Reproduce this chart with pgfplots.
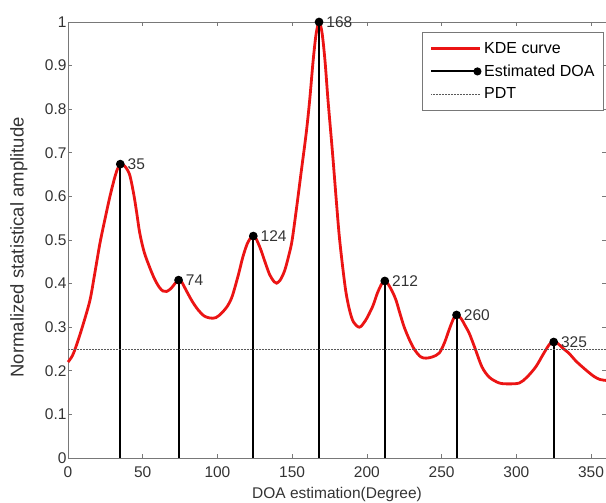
\documentclass[border=0pt]{standalone}
\usepackage{pgfplots}
\pgfplotsset{compat=1.18}
\usepackage{fontspec}
\setmainfont{Liberation Sans}
\definecolor{kdered}{RGB}{235,20,20}
\definecolor{axgray}{RGB}{120,120,120}
\begin{document}
\begin{tikzpicture}
\begin{axis}[
  scale only axis,
  width=538pt, height=436pt,
  xmin=0, xmax=360, ymin=0, ymax=1,
  xtick={0,50,...,350},
  ytick={0,0.1,...,1},
  yticklabels={0,0.1,0.2,0.3,0.4,0.5,0.6,0.7,0.8,0.9,1},
  tick align=inside,
  major tick length=4pt,
  axis line style={axgray, line width=0.9pt},
  tick style={axgray, line width=0.6pt},
  /pgf/number format/assume math mode=true,
  tick label style={font=\fontsize{15.5}{17}\selectfont, text=black!80},
  xlabel={DOA estimation(Degree)},
  ylabel={Normalized statistical amplitude},
  xlabel style={font=\fontsize{15.5}{17}\selectfont, text=black!80,
    at={(axis description cs:0.5,0)}, anchor=north, yshift=-26pt},
  ylabel style={font=\fontsize{18.5}{20}\selectfont, text=black!80,
    at={(axis description cs:0,0.483)}, anchor=south, rotate=0, yshift=37pt},
  xticklabel style={yshift=-5pt},
  yticklabel style={xshift=2pt},
  legend style={at={(rel axis cs:0.996,0.977)}, anchor=north east,
    font=\fontsize{16}{18}\selectfont, draw=axgray, line width=0.7pt,
    inner xsep=7pt, inner ysep=8pt, row sep=6pt},
  legend cell align=left,
  clip=false,
]
% KDE curve
\addplot[kdered, line width=2.8pt, smooth, tension=0.5,
  legend image code/.code={\draw[line width=3.6pt] (0pt,0pt) -- (49pt,0pt);}
] coordinates {
(0,0.220) (3,0.235) (6,0.262) (10,0.305) (14.7,0.362) (18,0.425) (21.4,0.493)
(25,0.552) (28,0.599) (31,0.640) (33,0.662) (35,0.674) (37,0.672) (39,0.665)
(41.4,0.648) (44,0.605) (46,0.562) (48,0.516) (51,0.472) (54.8,0.436) (58,0.410)
(61,0.392) (63.5,0.383) (66,0.382) (69,0.389) (72,0.402) (74,0.408) (76,0.404)
(79,0.385) (83,0.360) (87,0.340) (91,0.326) (95,0.321) (99,0.322) (103,0.333)
(107,0.350) (110,0.372) (114,0.420) (117,0.461) (120,0.492) (122.5,0.506)
(124,0.509) (126,0.502) (129,0.478) (132,0.448) (135,0.420) (138,0.404)
(139.6,0.401) (142,0.408) (145,0.430) (148,0.468) (150,0.500) (153,0.575)
(156,0.655) (159.4,0.745) (161.7,0.820) (164,0.910) (166,0.972) (168,1.000)
(170,0.975) (172,0.910) (174,0.820) (177,0.700) (179.5,0.592) (181.5,0.510)
(183.8,0.438) (186,0.380) (188.4,0.339) (191,0.312) (195,0.300) (199,0.315)
(203.8,0.347) (207,0.378) (210,0.400) (212,0.406) (214,0.400) (217,0.382)
(219.5,0.362) (222,0.333) (225,0.300) (228.5,0.271) (232,0.248) (236,0.232)
(239.6,0.229) (244,0.232) (248.5,0.241) (252,0.265) (255,0.294) (258,0.320)
(260,0.328) (263,0.320) (266,0.302) (268.5,0.286) (272,0.255) (277,0.209)
(282,0.185) (288.6,0.172) (295,0.170) (302,0.172) (307,0.185) (313,0.209)
(318,0.238) (322,0.260) (324.6,0.266) (328,0.262) (331,0.252) (335,0.241)
(340,0.222) (346.5,0.202) (352,0.187) (356,0.180) (360,0.178)
};
\addlegendentry{KDE curve}
% Estimated DOA stems
\addplot[black, line width=2pt, ycomb, mark=*, mark size=3.3pt,
  mark options={solid, fill=black},
  nodes near coords, point meta=explicit symbolic,
  every node near coord/.append style={anchor=west, xshift=3pt, yshift=0pt,
    font=\fontsize{15.5}{17}\selectfont, text=black!80},
  legend image code/.code={
    \draw[black, line width=1.5pt] (0pt,0pt) -- (46pt,0pt);
    \fill[black] (46pt,0pt) circle (3pt);
    \path (0pt,0pt) -- (49pt,0pt);}
] coordinates {
(35,0.674) [35] (74,0.408) [74] (124,0.509) [124] (168,1.000) [168]
(212,0.406) [212] (260,0.328) [260] (325,0.266) [325]
};
\addlegendentry{Estimated DOA}
% PDT threshold
\addplot[black!65, line width=0.5pt, densely dotted,
  legend image code/.code={\draw (0pt,0pt) -- (49pt,0pt);}
] coordinates {(0,0.25) (360,0.25)};
\addlegendentry{PDT}
\end{axis}
\pgfresetboundingbox
\path (-68pt,-45pt) rectangle (538pt,458pt);
\end{tikzpicture}
\end{document}
